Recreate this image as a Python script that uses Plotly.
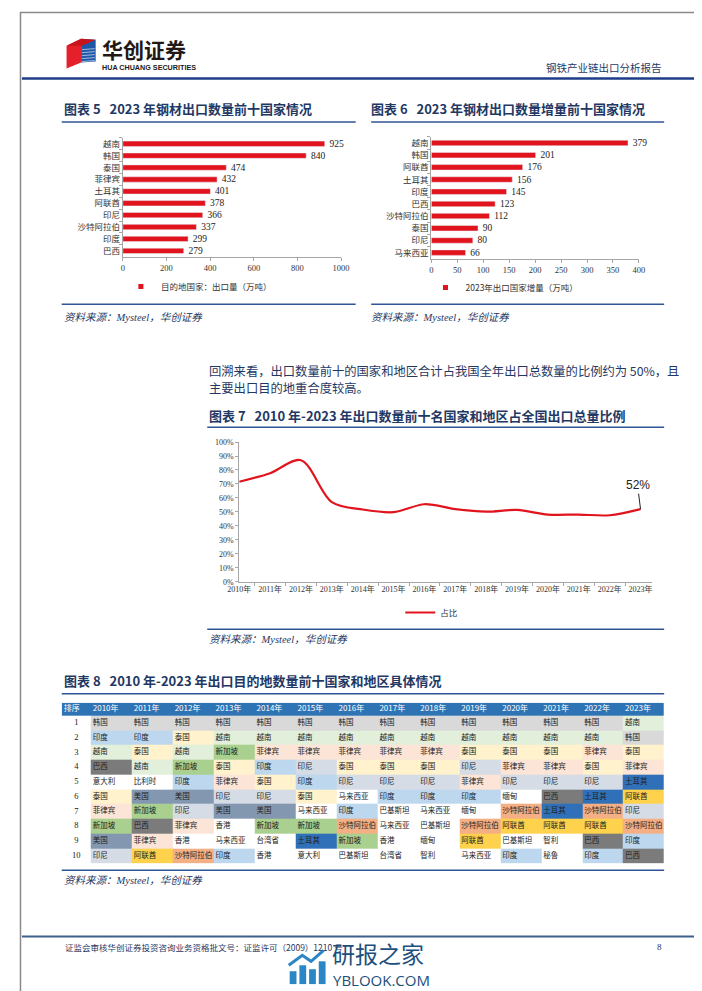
import plotly.graph_objects as go
from itertools import accumulate

W, H = 702, 991
def X(px): return px / W
def Y(py): return 1 - py / H

# ---------------- data ----------------
exp_countries = ["越南", "韩国", "泰国", "菲律宾", "土耳其", "阿联酋", "印尼", "沙特阿拉伯", "印度", "巴西"]
exp_values = [925, 840, 474, 432, 401, 378, 366, 337, 299, 279]

inc_countries = ["越南", "韩国", "阿联酋", "土耳其", "印度", "巴西", "沙特阿拉伯", "泰国", "印尼", "马来西亚"]
inc_values = [379, 201, 176, 156, 145, 123, 112, 90, 80, 66]

years = ["2010年", "2011年", "2012年", "2013年", "2014年", "2015年", "2016年",
         "2017年", "2018年", "2019年", "2020年", "2021年", "2022年", "2023年"]
share = [0.716, 0.777, 0.870, 0.570, 0.517, 0.498, 0.555, 0.520, 0.502, 0.514,
         0.481, 0.481, 0.476, 0.52]

rank = list(range(1, 11))
t2010 = ["韩国", "印度", "越南", "巴西", "意大利", "泰国", "菲律宾", "新加坡", "美国", "印尼"]
t2011 = ["韩国", "印度", "泰国", "越南", "比利时", "美国", "新加坡", "巴西", "菲律宾", "阿联酋"]
t2012 = ["韩国", "泰国", "越南", "新加坡", "印度", "美国", "印尼", "菲律宾", "香港", "沙特阿拉伯"]
t2013 = ["韩国", "越南", "新加坡", "泰国", "菲律宾", "印尼", "美国", "香港", "马来西亚", "印度"]
t2014 = ["韩国", "越南", "菲律宾", "印度", "泰国", "印尼", "美国", "新加坡", "台湾省", "香港"]
t2015 = ["韩国", "越南", "菲律宾", "印尼", "印度", "泰国", "马来西亚", "新加坡", "土耳其", "意大利"]
t2016 = ["韩国", "越南", "菲律宾", "泰国", "印尼", "马来西亚", "印度", "沙特阿拉伯", "新加坡", "巴基斯坦"]
t2017 = ["韩国", "越南", "菲律宾", "泰国", "印尼", "印度", "巴基斯坦", "马来西亚", "香港", "台湾省"]
t2018 = ["韩国", "越南", "菲律宾", "泰国", "印尼", "印度", "马来西亚", "巴基斯坦", "缅甸", "智利"]
t2019 = ["韩国", "越南", "泰国", "印尼", "菲律宾", "印度", "缅甸", "沙特阿拉伯", "阿联酋", "马来西亚"]
t2020 = ["韩国", "越南", "泰国", "菲律宾", "印尼", "缅甸", "沙特阿拉伯", "阿联酋", "巴基斯坦", "印度"]
t2021 = ["韩国", "越南", "泰国", "菲律宾", "印尼", "巴西", "土耳其", "阿联酋", "智利", "秘鲁"]
t2022 = ["韩国", "越南", "菲律宾", "泰国", "印尼", "土耳其", "沙特阿拉伯", "阿联酋", "巴西", "印度"]
t2023 = ["越南", "韩国", "泰国", "菲律宾", "土耳其", "阿联酋", "印尼", "沙特阿拉伯", "印度", "巴西"]
table_cols = [t2010, t2011, t2012, t2013, t2014, t2015, t2016,
              t2017, t2018, t2019, t2020, t2021, t2022, t2023]
table_header = ["排序"] + years

country_colors = {
    "韩国": "#d9d9d9", "印度": "#bdd7ee", "越南": "#e2efda", "泰国": "#fff2cc",
    "菲律宾": "#fce4d6", "巴西": "#7b7b7b", "印尼": "#d6dce5", "美国": "#8497b0",
    "新加坡": "#a9d08e", "沙特阿拉伯": "#f4b084", "阿联酋": "#ffd24d", "土耳其": "#2f70b8",
}

# ---------------- styles ----------------
RED = "#e1141e"
NAVY = "#1f3864"
LINEBLUE = "#2f5496"
HEADBLUE = "#2e74b5"
AX = "#a6a6a6"
CJK = "Noto Sans CJK SC"
SERIF = "Liberation Serif, Noto Sans CJK SC"
GAP = "\u00a0\u00a0"

fig = go.Figure()

# ---- chart 5 ----
fig.add_trace(go.Bar(
    x=exp_values, y=exp_countries, orientation="h", marker_color=RED, width=0.45,
    texttemplate=GAP + "%{x}", textposition="outside", cliponaxis=False, constraintext="none",
    textfont=dict(family=SERIF, size=9.5, color="#222"), showlegend=False,
    xaxis="x", yaxis="y"))
fig.add_trace(go.Scatter(
    x=[None], y=[None], mode="markers", marker=dict(symbol="square", size=5, color=RED),
    name="目的地国家：出口量（万吨）", xaxis="x", yaxis="y", legend="legend"))

# ---- chart 6 ----
fig.add_trace(go.Bar(
    x=inc_values, y=inc_countries, orientation="h", marker_color=RED, width=0.45,
    texttemplate=GAP + "%{x}", textposition="outside", cliponaxis=False, constraintext="none",
    textfont=dict(family=SERIF, size=9.5, color="#222"), showlegend=False,
    xaxis="x2", yaxis="y2"))
fig.add_trace(go.Scatter(
    x=[None], y=[None], mode="markers", marker=dict(symbol="square", size=5, color=RED),
    name="2023年出口国家增量（万吨）", xaxis="x2", yaxis="y2", legend="legend2"))

# ---- chart 7 ----
fig.add_trace(go.Scatter(
    x=years, y=share, mode="lines", line=dict(color=RED, width=2.2, shape="spline", smoothing=0.9),
    name="占比", xaxis="x3", yaxis="y3", legend="legend3"))

# ---- chart 8: colour table drawn as a heatmap ----
col_widths = [30] + [42.2] * 14
row_heights = [13] + [14.9] * 10
x_edges = [0] + list(accumulate(col_widths))
y_edges = [0] + list(accumulate(row_heights))

palette = ["white", HEADBLUE] + sorted(set(country_colors.values()))
def pidx(c): return palette.index(c)
z = [[pidx(HEADBLUE)] * 15]
for r in range(10):
    z.append([pidx("white")] + [pidx(country_colors.get(col[r], "white")) for col in table_cols])
n = len(palette)
cscale = [[i / (n - 1), c] for i, c in enumerate(palette)]
fig.add_trace(go.Heatmap(
    z=z, x=x_edges, y=y_edges, colorscale=cscale, zmin=0, zmax=n - 1, showscale=False,
    hoverinfo="skip", xaxis="x4", yaxis="y4"))

ycent = [(y_edges[i] + y_edges[i + 1]) / 2 for i in range(11)]
fig.add_trace(go.Scatter(
    x=[x_edges[c] + 2 for c in range(15)], y=[ycent[0]] * 15, text=table_header,
    mode="text", textposition="middle right", showlegend=False, hoverinfo="skip",
    textfont=dict(family=CJK, size=8, color="white"), xaxis="x4", yaxis="y4"))
fig.add_trace(go.Scatter(
    x=[(x_edges[0] + x_edges[1]) / 2] * 10, y=ycent[1:], text=[str(v) for v in rank],
    mode="text", textposition="middle center", showlegend=False, hoverinfo="skip",
    textfont=dict(family=SERIF, size=8.5, color="#222"), xaxis="x4", yaxis="y4"))
tx, ty, tt = [], [], []
for c, col in enumerate(table_cols, start=1):
    for r, name in enumerate(col, start=1):
        tx.append(x_edges[c] + 2)
        ty.append(ycent[r])
        tt.append(name)
fig.add_trace(go.Scatter(
    x=tx, y=ty, text=tt, mode="text", textposition="middle right", showlegend=False,
    hoverinfo="skip", textfont=dict(family=CJK, size=7.5, color="#222"), xaxis="x4", yaxis="y4"))

axis_common = dict(showline=True, linecolor=AX, linewidth=1, ticks="outside", ticklen=3,
                   tickcolor=AX, showgrid=False, zeroline=False, fixedrange=True)
leg_common = dict(xanchor="left", yanchor="middle", orientation="h", itemwidth=30,
                  font=dict(family=CJK, size=8.5, color="#333"), bgcolor="rgba(0,0,0,0)")

fig.update_layout(
    width=W, height=H, margin=dict(l=0, r=0, t=0, b=0), showlegend=True,
    paper_bgcolor="white", plot_bgcolor="white",
    xaxis=dict(domain=[X(106), X(331)], range=[0, 1000], dtick=200, anchor="y",
               tickfont=dict(family=SERIF, size=8.5, color="#333"), **axis_common),
    yaxis=dict(domain=[Y(247), Y(127)], anchor="x", autorange="reversed", tickson="boundaries",
               tickfont=dict(family=CJK, size=8.5, color="#333"), **axis_common),
    xaxis2=dict(domain=[X(424), X(638)], range=[0, 400], dtick=50, anchor="y2",
                tickfont=dict(family=SERIF, size=8.5, color="#333"), **axis_common),
    yaxis2=dict(domain=[Y(249), Y(126)], anchor="x2", autorange="reversed", tickson="boundaries",
                tickfont=dict(family=CJK, size=8.5, color="#333"), **axis_common),
    xaxis3=dict(domain=[X(226), X(651)], anchor="y3", type="category", tickangle=0,
                tickson="boundaries", tickfont=dict(family=SERIF, size=8, color="#333"), **axis_common),
    yaxis3=dict(domain=[Y(575), Y(434)], anchor="x3", range=[0, 1], dtick=0.1, tickformat=".0%",
                tickfont=dict(family=SERIF, size=8, color="#333"), **axis_common),
    xaxis4=dict(domain=[X(43), X(664)], anchor="y4", range=[0, x_edges[-1]], visible=False,
                fixedrange=True),
    yaxis4=dict(domain=[Y(859), Y(697)], anchor="x4", range=[y_edges[-1], 0], visible=False,
                fixedrange=True),
    legend=dict(x=X(104), y=Y(277), **leg_common),
    legend2=dict(x=X(418), y=Y(278), **leg_common),
    legend3=dict(x=X(392), y=Y(606), **leg_common),
)

fig.add_annotation(x=years[-1], y=share[-1], xref="x3", yref="y3", text="52%",
                   showarrow=True, arrowhead=0, arrowwidth=1, arrowcolor="#222",
                   ax=-3, ay=-24, font=dict(family="Liberation Sans", size=12, color="#222"))

# ---------------- page decorations ----------------
shapes = []
def hline(y, x0, x1, color, width):
    shapes.append(dict(type="line", xref="paper", yref="paper", x0=X(x0), x1=X(x1),
                       y0=Y(y), y1=Y(y), line=dict(color=color, width=width)))

shapes.append(dict(type="rect", xref="paper", yref="paper", x0=X(0.5), x1=X(701.5),
                   y0=Y(990.5), y1=Y(0.5), line=dict(color="#8a8a8a", width=1.5)))
hline(67, 2, 700, "#1f3c88", 2.5)
hline(933, 2, 700, "#3d5f8c", 2)
hline(111, 43, 346, LINEBLUE, 1.5)
hline(295, 43, 346, LINEBLUE, 1.5)
hline(111, 362, 664, LINEBLUE, 1.5)
hline(295, 362, 664, LINEBLUE, 1.5)
hline(419, 193, 664, LINEBLUE, 1.5)
hline(623, 193, 664, LINEBLUE, 1.5)
hline(688, 43, 664, LINEBLUE, 1.5)
hline(866, 43, 664, LINEBLUE, 1.5)

def path(points, color):
    d = "M " + " L ".join(f"{X(a)},{Y(b)}" for a, b in points) + " Z"
    shapes.append(dict(type="path", xref="paper", yref="paper", path=d,
                       fillcolor=color, line=dict(width=0)))

path([(48, 34), (63, 27), (63, 51), (48, 57)], "#e5202a")
path([(63, 27), (78, 28), (78, 50), (63, 51)], "#1d57a8")
path([(48, 34), (63, 27), (78, 28), (64, 34)], "#c9141d")
for k in range(5):
    shapes.append(dict(type="line", xref="paper", yref="paper",
                       x0=X(64), x1=X(77), y0=Y(38 + 3 * k), y1=Y(37 + 3 * k),
                       line=dict(color="white", width=0.6)))

for x0, top in [(278, 968), (288, 962), (298, 966), (308, 958)]:
    shapes.append(dict(type="rect", xref="paper", yref="paper", x0=X(x0), x1=X(x0 + 7),
                       y0=Y(981), y1=Y(top), fillcolor="#2b86c5", line=dict(width=0)))
shapes.append(dict(type="path", xref="paper", yref="paper",
                   path=f"M {X(277)},{Y(962)} L {X(291)},{Y(952)} L {X(300)},{Y(958)} L {X(313)},{Y(947)}",
                   line=dict(color="#2b86c5", width=3)))
fig.update_layout(shapes=shapes)

def text(x, y, s, size, color=NAVY, family=CJK, anchor="left", bold=False, italic=False):
    if bold:
        s = f"<b>{s}</b>"
    if italic:
        s = f"<i>{s}</i>"
    fig.add_annotation(xref="paper", yref="paper", x=X(x), y=Y(y), text=s, showarrow=False,
                       xanchor=anchor, yanchor="middle",
                       font=dict(family=family, size=size, color=color))

text(82, 37, "华创证券", 21, color="#231815", bold=True)
text(82, 56, "HUA CHUANG SECURITIES", 7.2, color="#231815", family="Liberation Sans", bold=True)
text(664, 56, "钢铁产业链出口分析报告", 10.5, anchor="right")

text(43, 97, "图表 5   2023 年钢材出口数量前十国家情况", 13, bold=True)
text(360, 97, "图表 6   2023 年钢材出口数量增量前十国家情况", 13, bold=True)
text(43, 308, "资料来源：Mysteel，华创证券", 10.5, family=SERIF, italic=True)
text(360, 308, "资料来源：Mysteel，华创证券", 10.5, family=SERIF, italic=True)

text(193, 362, "回溯来看，出口数量前十的国家和地区合计占我国全年出口总数量的比例约为 50%，且", 12.3)
text(193, 379, "主要出口目的地重合度较高。", 12.3)
text(193, 407, "图表 7   2010 年-2023 年出口数量前十名国家和地区占全国出口总量比例", 13, bold=True)
text(193, 633, "资料来源：Mysteel，华创证券", 10.5, family=SERIF, italic=True)

text(43, 675, "图表 8   2010 年-2023 年出口目的地数量前十国家和地区具体情况", 13, bold=True)
text(43, 876, "资料来源：Mysteel，华创证券", 10.5, family=SERIF, italic=True)

text(44, 944, "证监会审核华创证券投资咨询业务资格批文号：证监许可（2009）1210 号", 8.5)
text(664, 944, "8", 9, family=SERIF, anchor="right")
text(320, 950, "研报之家", 23, color="#1c4f7c")
text(321, 977, "YBLOOK.COM", 15, color="#1c4f7c", family="Open Sans")

fig.write_html("out.html")
